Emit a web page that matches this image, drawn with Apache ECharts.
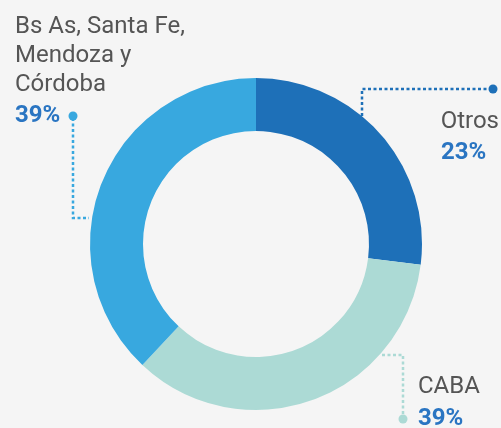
<!DOCTYPE html>
<html>
<head>
<meta charset="utf-8">
<script src="https://cdn.jsdelivr.net/npm/echarts@6/dist/echarts.min.js"></script>
<style>
  html, body { margin: 0; padding: 0; background: #f5f5f5; }
  #chart { width: 501px; height: 428px; }
</style>
</head>
<body>
<div id="chart"></div>
<script>
// datos
const names = ['Otros', 'CABA', 'Bs As, Santa Fe,\nMendoza y\nCórdoba'];
const values = [27, 35, 38];            // tamaño visual de cada porción
const pctLabels = ['23%', '39%', '39%']; // porcentajes impresos
const colors = ['#1e70b8', '#acdad5', '#38a8df'];

const chart = echarts.init(document.getElementById('chart'));

const txt = '#555555';
const pctColor = '#2a75c2';
const font = 'Roboto, "Noto Sans", sans-serif';

function dotted(points, color) {
  return {
    type: 'polyline',
    shape: { points: points },
    style: { stroke: color, lineWidth: 2.5, lineDash: [3, 2.5], fill: null },
    silent: true
  };
}
function dot(x, y, color) {
  return { type: 'circle', shape: { cx: x, cy: y, r: 4.5 }, style: { fill: color }, silent: true };
}
function label(x, y, text, opts) {
  return {
    type: 'text', x: x, y: y, silent: true,
    style: Object.assign({
      text: text, font: '24px ' + font, fill: txt,
      textVerticalAlign: 'middle', lineHeight: 29
    }, opts || {})
  };
}

chart.setOption({
  backgroundColor: '#f5f5f5',
  animation: false,
  series: [{
    type: 'pie',
    center: [256, 244],
    radius: [113, 166],
    startAngle: 90,
    clockwise: true,
    silent: true,
    label: { show: false },
    labelLine: { show: false },
    data: names.map((n, i) => ({ name: n, value: values[i], itemStyle: { color: colors[i] } }))
  }],
  graphic: [
    // Otros
    dotted([[362, 116], [362, 89], [493, 89]], colors[0]),
    dot(493, 89, colors[0]),
    label(499, 122, names[0], { textAlign: 'right' }),
    label(441, 153, pctLabels[0], { font: 'bold 24px ' + font, fill: pctColor }),
    // CABA
    dotted([[382, 355], [403, 355], [403, 418]], colors[1]),
    dot(403, 419, colors[1]),
    label(418, 387, names[1]),
    label(418, 419, pctLabels[1], { font: 'bold 24px ' + font, fill: pctColor }),
    // Bs As
    dotted([[73, 118], [73, 218], [89, 218]], colors[2]),
    dot(73, 116, colors[2]),
    label(15, 56, names[2]),
    label(15, 116, pctLabels[2], { font: 'bold 24px ' + font, fill: pctColor })
  ]
});
</script>
</body>
</html>
